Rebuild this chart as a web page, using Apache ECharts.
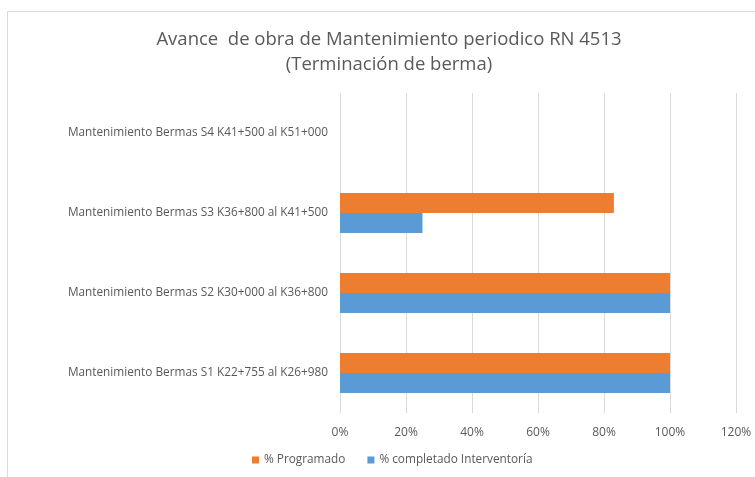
<!DOCTYPE html>
<html><head><meta charset="utf-8">
<script src="https://cdn.jsdelivr.net/npm/echarts@6/dist/echarts.min.js"></script>
<style>html,body{margin:0;padding:0;background:#fff}#c{width:755px;height:477px}</style>
</head><body><div id="c"></div>
<script>
const categories = [
  "Mantenimiento Bermas S1 K22+755 al K26+980",
  "Mantenimiento Bermas S2 K30+000 al K36+800",
  "Mantenimiento Bermas S3 K36+800 al K41+500",
  "Mantenimiento Bermas S4 K41+500 al K51+000"
];
const programado = [1.00, 1.00, 0.83, 0];
const completado = [1.00, 1.00, 0.25, 0];
const seriesNames = ["% Programado", "% completado Interventoría"];
const titleText = "Avance  de obra de Mantenimiento periodico RN 4513\n(Terminación de berma)";

const font = "'Open Sans', 'Noto Sans', sans-serif";
const chart = echarts.init(document.getElementById('c'));
chart.setOption({
  animation: false,
  graphic: [{type:'rect', shape:{x:7.5,y:11.5,width:800,height:500}, style:{fill:'none',stroke:'#d9d9d9',lineWidth:1}, silent:true}],
  title: {
    text: titleText, left: 384, textAlign: 'center', top: 22,
    textStyle: {fontFamily: font, fontSize: 18.5, fontWeight: 'normal', color: '#595959', lineHeight: 25}
  },
  legend: {
    data: seriesNames, bottom: 6, left: 247, itemWidth: 7, itemHeight: 7, itemGap: 22,
    icon: 'rect',
    textStyle: {fontFamily: font, fontSize: 11.8, color: '#595959'}
  },
  grid: {left: 340, right: 19, top: 93, bottom: 64, containLabel: false},
  xAxis: {
    type: 'value', min: 0, max: 1.2, interval: 0.2,
    axisLine: {show: false}, axisTick: {show: false},
    splitLine: {lineStyle: {color: '#d9d9d9'}},
    axisLabel: {fontFamily: font, fontSize: 12, color: '#595959', margin: 14,
      formatter: v => Math.round(v*100) + '%'}
  },
  yAxis: {
    type: 'category', data: categories,
    axisLine: {show: false}, axisTick: {show: false},
    axisLabel: {fontFamily: font, fontSize: 11.8, color: '#595959', margin: 12}
  },
  series: [
    {name: seriesNames[0], type: 'bar', data: programado, barWidth: 20, barGap: '0%', barCategoryGap: '50%',
      itemStyle: {color: '#ED7D31'}},
    {name: seriesNames[1], type: 'bar', data: completado, barWidth: 20, barGap: '0%', barCategoryGap: '50%',
      itemStyle: {color: '#5B9BD5'}}
  ]
});
</script></body></html>
